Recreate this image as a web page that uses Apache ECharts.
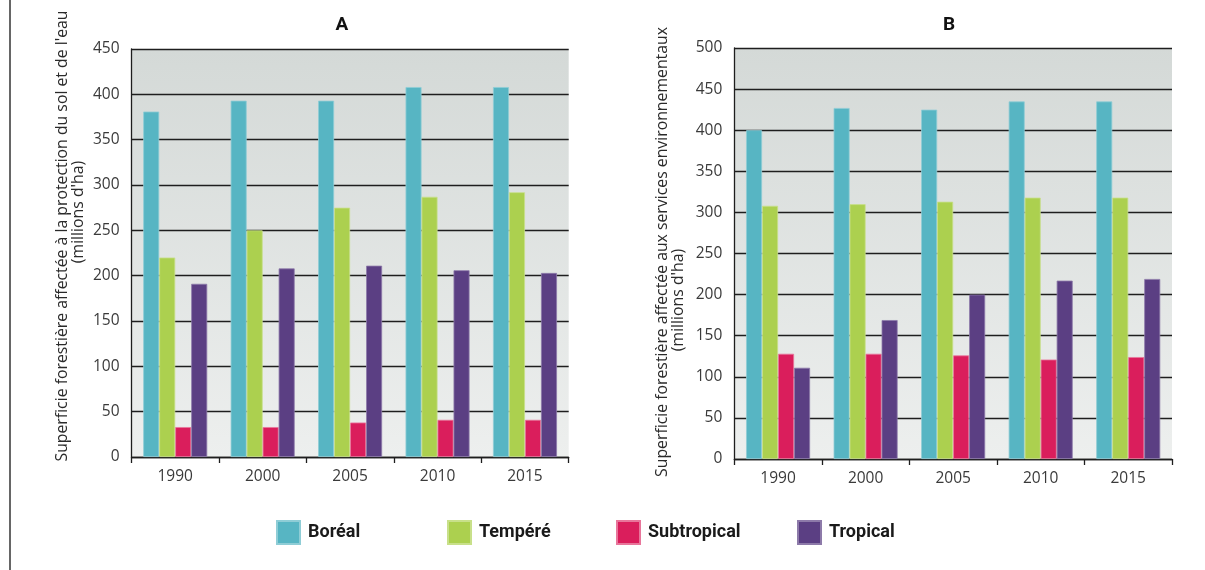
<!DOCTYPE html>
<html>
<head>
<meta charset="utf-8">
<script src="https://cdn.jsdelivr.net/npm/echarts@6/dist/echarts.min.js"></script>
<style>
  html, body { margin: 0; padding: 0; background: #ffffff; }
  #chart { width: 1205px; height: 570px; }
</style>
</head>
<body>
<div id="chart"></div>
<script>
// ---- Data ----
const years = ['1990', '2000', '2005', '2010', '2015'];
const seriesNames = ['Boréal', 'Tempéré', 'Subtropical', 'Tropical'];
const colors = ['#57b5c3', '#acd04f', '#da1e5c', '#5b3f83'];
const borderColors = ['#8fcdd6', '#c8e08a', '#e8769b', '#8d7aa9'];

// Panel A: protection du sol et de l'eau (millions d'ha)
const borealA = [381, 393, 393, 408, 408];
const tempereA = [220, 250, 275, 287, 292];
const subtropicalA = [33, 33, 38, 41, 41];
const tropicalA = [191, 208, 211, 206, 203];

// Panel B: services environnementaux (millions d'ha)
const borealB = [400, 427, 425, 435, 435];
const tempereB = [308, 310, 313, 318, 318];
const subtropicalB = [128, 128, 126, 121, 124];
const tropicalB = [111, 169, 200, 217, 219];

const yTicksA = { min: 0, max: 450, interval: 50 };
const yTicksB = { min: 0, max: 500, interval: 50 };

const titleA = 'A';
const titleB = 'B';
const yTitleA1 = "Superficie forestière affectée à la protection du sol et de l'eau";
const yTitleB1 = 'Superficie forestière affectée aux services environnementaux';
const yTitle2 = "(millions d'ha)";

// ---- Chart ----
const chart = echarts.init(document.getElementById('chart'), null, { renderer: 'canvas' });

const labelFont = '"Open Sans", "DejaVu Sans", sans-serif';
const boldFont = 'Roboto, "Liberation Sans", Arial, sans-serif';

const bgGradient = {
  type: 'linear', x: 0, y: 0, x2: 0, y2: 1,
  colorStops: [
    { offset: 0, color: '#d4d9d7' },
    { offset: 1, color: '#edefee' }
  ]
};

function xAxisCfg(gridIndex) {
  return {
    type: 'category',
    gridIndex: gridIndex,
    data: years,
    axisLine: { show: true, lineStyle: { color: '#1e1e1e', width: 1.3 } },
    axisTick: { show: true, length: 6, alignWithLabel: false, lineStyle: { color: '#1e1e1e', width: 1.3 } },
    axisLabel: { margin: 12, fontSize: 15.5, color: '#3a3a3a', fontFamily: labelFont },
    splitLine: { show: false }
  };
}

function yAxisCfg(gridIndex, ticks) {
  return {
    type: 'value',
    gridIndex: gridIndex,
    min: ticks.min, max: ticks.max, interval: ticks.interval,
    axisLine: { show: true, lineStyle: { color: '#1e1e1e', width: 1.3 } },
    axisTick: { show: false },
    axisLabel: { margin: 12, fontSize: 15.5, color: '#3a3a3a', fontFamily: labelFont },
    splitLine: { show: true, lineStyle: { color: '#1e1e1e', width: 1.3 } }
  };
}

const dataA = [borealA, tempereA, subtropicalA, tropicalA];
const dataB = [borealB, tempereB, subtropicalB, tropicalB];

const series = [];
[dataA, dataB].forEach((set, gi) => {
  set.forEach((vals, i) => {
    series.push({
      name: seriesNames[i],
      type: 'bar',
      xAxisIndex: gi,
      yAxisIndex: gi,
      data: vals,
      barWidth: 16,
      barGap: '0%',
      itemStyle: { color: colors[i], borderColor: borderColors[i], borderWidth: 0.8 },
      emphasis: { disabled: true },
      animation: false
    });
  });
});

const legendLefts = [276, 447, 616, 797];
const legends = seriesNames.map((n, i) => ({
  data: [n],
  left: legendLefts[i],
  top: 520,
  padding: 0,
  orient: 'horizontal',
  icon: 'rect',
  itemWidth: 23,
  itemHeight: 23,
  selectedMode: false,
  textStyle: {
    fontSize: 18, fontWeight: 'bold', color: '#1a1a1a', fontFamily: boldFont,
    padding: [0, 0, 0, 3]
  }
}));

const option = {
  backgroundColor: '#ffffff',
  animation: false,
  title: [
    { text: titleA, left: 342, top: 16, padding: 0, textAlign: 'center',
      textStyle: { fontSize: 19, fontWeight: 'bold', color: '#111', fontFamily: boldFont } },
    { text: titleB, left: 949, top: 16, padding: 0, textAlign: 'center',
      textStyle: { fontSize: 19, fontWeight: 'bold', color: '#111', fontFamily: boldFont } }
  ],
  legend: legends,
  grid: [
    { left: 131.5, right: 636.3, top: 49, bottom: 113, show: true, backgroundColor: bgGradient, borderWidth: 0 },
    { left: 734.3, right: 33, top: 48, bottom: 111, show: true, backgroundColor: bgGradient, borderWidth: 0 }
  ],
  xAxis: [xAxisCfg(0), xAxisCfg(1)],
  yAxis: [yAxisCfg(0, yTicksA), yAxisCfg(1, yTicksB)],
  series: series,
  graphic: [
    { type: 'line', shape: { x1: 10, y1: 0, x2: 10, y2: 570 }, style: { stroke: '#333', lineWidth: 1.5 } },
    { type: 'text', x: 62, y: 236, rotation: Math.PI / 2,
      style: { text: yTitleA1, fontSize: 15.8, fontFamily: labelFont, fill: '#2a2a2a', align: 'center', verticalAlign: 'middle' } },
    { type: 'text', x: 78, y: 212, rotation: Math.PI / 2,
      style: { text: yTitle2, fontSize: 15.8, fontFamily: labelFont, fill: '#2a2a2a', align: 'center', verticalAlign: 'middle' } },
    { type: 'text', x: 662, y: 252, rotation: Math.PI / 2,
      style: { text: yTitleB1, fontSize: 15.8, fontFamily: labelFont, fill: '#2a2a2a', align: 'center', verticalAlign: 'middle' } },
    { type: 'text', x: 678, y: 300, rotation: Math.PI / 2,
      style: { text: yTitle2, fontSize: 15.8, fontFamily: labelFont, fill: '#2a2a2a', align: 'center', verticalAlign: 'middle' } }
  ]
};

chart.setOption(option);
</script>
</body>
</html>
